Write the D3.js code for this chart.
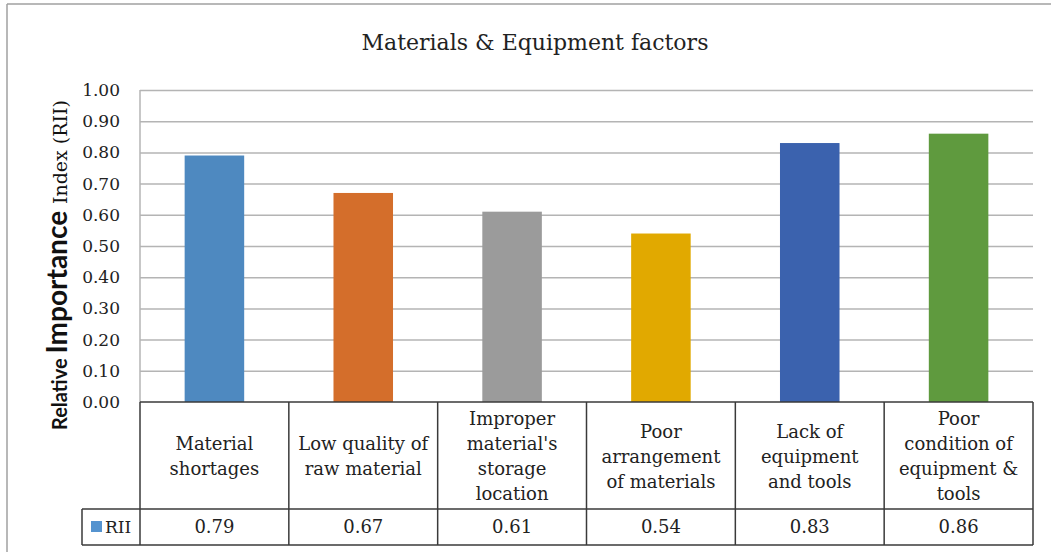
<!DOCTYPE html>
<html>
<head>
<meta charset="utf-8">
<script src="https://d3js.org/d3.v7.min.js"></script>
<style>
  body { margin: 0; background: #fff; }
  svg { display: block; }
</style>
</head>
<body>
<script>
'use strict';

// chart data
const categories = [
  ['Material', 'shortages'],
  ['Low quality of', 'raw material'],
  ['Improper', "material's", 'storage', 'location'],
  ['Poor', 'arrangement', 'of materials'],
  ['Lack of', 'equipment', 'and tools'],
  ['Poor', 'condition of', 'equipment &', 'tools']
];
const rii = [0.79, 0.67, 0.61, 0.54, 0.83, 0.86];
const barColors = ['#4e89c0', '#d46e2b', '#9b9b9b', '#e1a900', '#3b62ae', '#5f9a3e'];
const yTicks = [0, 0.1, 0.2, 0.3, 0.4, 0.5, 0.6, 0.7, 0.8, 0.9, 1.0];
const seriesName = 'RII';

(function() {
  let svgContainer = '';
  const serif = 'DejaVu Serif';

  window.onload = function() {
    svgContainer = d3.select('body').append('svg')
      .attr('width', 1051)
      .attr('height', 555);

    // outer frame (only top and left edge visible)
    svgContainer.append('line')
      .attr('x1', 7).attr('y1', 4).attr('x2', 1051).attr('y2', 4)
      .style('stroke', '#a0a0a0').style('stroke-width', 1.5);
    svgContainer.append('line')
      .attr('x1', 7).attr('y1', 4).attr('x2', 7).attr('y2', 552)
      .style('stroke', '#a0a0a0').style('stroke-width', 1.5);

    svgContainer.append('text')
      .attr('x', 535)
      .attr('y', 50)
      .attr('text-anchor', 'middle')
      .style('font-family', serif)
      .style('font-size', '22px')
      .style('fill', '#222')
      .text('Materials & Equipment factors');

    drawChart();
  }

  function drawChart() {
    let left = 140, right = 1033, top = 90, bottom = 402;
    let catBottom = 509, valBottom = 545, legendLeft = 82;

    let xScale = d3.scaleBand()
      .domain(d3.range(categories.length))
      .range([left, right])
      .paddingInner(0)
      .paddingOuter(0);

    let yScale = d3.scaleLinear()
      .domain([0, 1])
      .range([bottom, top]);

    // gridlines
    let grid = d3.axisLeft(yScale)
      .tickValues(yTicks.slice(1))
      .tickSize(-(right - left))
      .tickFormat('');
    let gridG = svgContainer.append('g')
      .attr('transform', 'translate(' + left + ',0)')
      .call(grid);
    gridG.select('.domain').remove();
    gridG.selectAll('line')
      .style('stroke', '#b4b4b4')
      .style('stroke-width', 1.5);

    // left edge of plot area
    svgContainer.append('line')
      .attr('x1', left).attr('y1', top).attr('x2', left).attr('y2', bottom)
      .style('stroke', '#b4b4b4').style('stroke-width', 1.5);

    // y tick labels
    let yAxis = d3.axisLeft(yScale)
      .tickValues(yTicks)
      .tickSize(0)
      .tickPadding(20)
      .tickFormat(d3.format('.2f'));
    let yG = svgContainer.append('g')
      .attr('transform', 'translate(' + left + ',0)')
      .call(yAxis);
    yG.select('.domain').remove();
    yG.selectAll('text')
      .style('font-family', serif)
      .style('font-size', '17px')
      .style('fill', '#222');

    // bars
    let barW = xScale.bandwidth() * 0.4;
    svgContainer.selectAll('.bar')
      .data(rii)
      .enter()
      .append('rect')
        .attr('class', 'bar')
        .attr('x', (d, i) => xScale(i) + (xScale.bandwidth() - barW) / 2)
        .attr('y', (d) => yScale(d))
        .attr('width', barW)
        .attr('height', (d) => yScale(0) - yScale(d))
        .attr('fill', (d, i) => barColors[i]);

    // data table lines
    let tbl = svgContainer.append('g')
      .style('stroke', '#3a3a3a')
      .style('stroke-width', 1.5);
    tbl.append('line').attr('x1', left).attr('x2', right).attr('y1', bottom).attr('y2', bottom);
    tbl.append('line').attr('x1', legendLeft).attr('x2', right).attr('y1', catBottom).attr('y2', catBottom);
    tbl.append('line').attr('x1', legendLeft).attr('x2', right).attr('y1', valBottom).attr('y2', valBottom);
    tbl.append('line').attr('x1', legendLeft).attr('x2', legendLeft).attr('y1', catBottom).attr('y2', valBottom);
    tbl.selectAll('.vline')
      .data(d3.range(categories.length + 1))
      .enter()
      .append('line')
        .attr('x1', (i) => left + i * xScale.step())
        .attr('x2', (i) => left + i * xScale.step())
        .attr('y1', bottom)
        .attr('y2', valBottom);

    // category labels
    let catMid = 462.5, lineH = 25;
    let catText = svgContainer.selectAll('.cat')
      .data(categories)
      .enter()
      .append('text')
        .attr('class', 'cat')
        .attr('text-anchor', 'middle')
        .style('font-family', serif)
        .style('font-size', '18px')
        .style('fill', '#222');
    catText.each(function(lines, i) {
      let cx = xScale(i) + xScale.bandwidth() / 2;
      d3.select(this).selectAll('tspan')
        .data(lines)
        .enter()
        .append('tspan')
          .attr('x', cx)
          .attr('y', (l, j) => catMid + (j - (lines.length - 1) / 2) * lineH)
          .text((l) => l);
    });

    // values row
    svgContainer.selectAll('.val')
      .data(rii)
      .enter()
      .append('text')
        .attr('class', 'val')
        .attr('x', (d, i) => xScale(i) + xScale.bandwidth() / 2)
        .attr('y', 533)
        .attr('text-anchor', 'middle')
        .style('font-family', serif)
        .style('font-size', '18px')
        .style('fill', '#222')
        .text((d) => d3.format('.2f')(d));

    // legend key
    svgContainer.append('rect')
      .attr('x', 91).attr('y', 521)
      .attr('width', 11).attr('height', 11)
      .attr('fill', '#5593cf');
    svgContainer.append('text')
      .attr('x', 105).attr('y', 533)
      .style('font-family', serif)
      .style('font-size', '17px')
      .style('fill', '#222')
      .text(seriesName);

    // y axis title
    let yTitle = svgContainer.append('text')
      .attr('transform', 'translate(67, 430)rotate(-90)')
      .style('fill', '#111');
    yTitle.append('tspan')
      .style('font-family', 'Lato')
      .style('font-weight', 'bold')
      .style('font-size', '20px')
      .text('Relative ');
    yTitle.append('tspan')
      .style('font-family', 'Lato')
      .style('font-weight', 'bold')
      .style('font-size', '28px')
      .text('Importance ');
    yTitle.append('tspan')
      .style('font-family', serif)
      .style('font-size', '19px')
      .text('Index (RII)');
  }
})();
</script>
</body>
</html>
